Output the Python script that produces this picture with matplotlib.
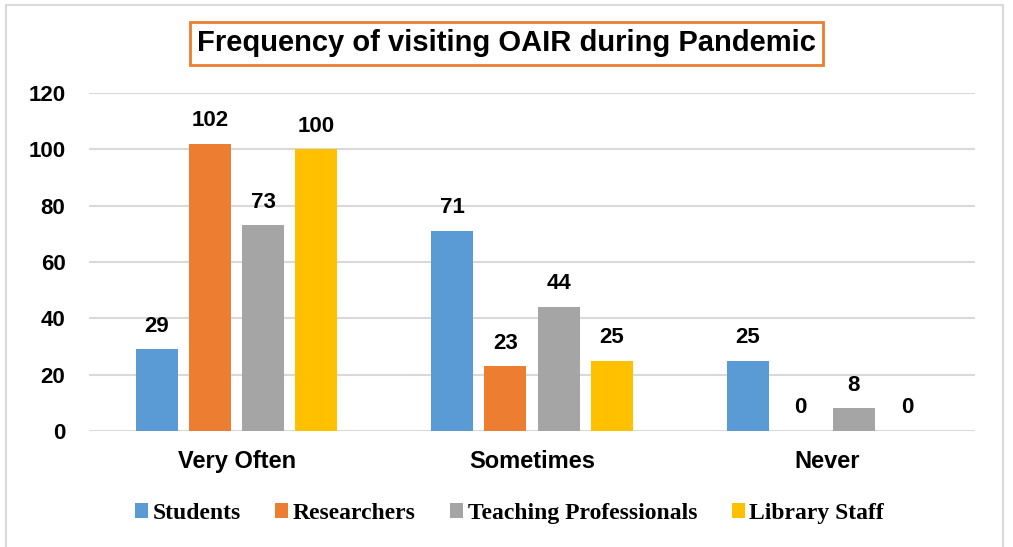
import matplotlib.pyplot as plt
import numpy as np
from matplotlib.patches import Rectangle

categories = ['Very Often', 'Sometimes', 'Never']
groups = ['Students', 'Researchers', 'Teaching Professionals', 'Library Staff']
students = [29, 71, 25]
researchers = [102, 23, 0]
teaching = [73, 44, 8]
library = [100, 25, 0]
colors = ['#5B9BD5', '#ED7D31', '#A5A5A5', '#FFC000']

plt.rcParams['font.family'] = ['Liberation Sans', 'DejaVu Sans']

fig = plt.figure(figsize=(10.13, 5.47), dpi=100)
ax = fig.add_axes([0.0879, 0.2121, 0.8746, 0.6179])

x = np.arange(len(categories))
width = 0.142
step = 0.18
series = [students, researchers, teaching, library]
for i, (vals, name, c) in enumerate(zip(series, groups, colors)):
    bars = ax.bar(x + (i - 1.5) * step, vals, width, color=c, label=name, zorder=3)
    for b, v in zip(bars, vals):
        ax.text(b.get_x() + b.get_width() / 2, v + 4.5, str(v), ha='center', va='bottom',
                fontsize=16, fontweight='bold')

ax.set_xlim(-0.5, 2.5)
ax.set_ylim(0, 120)
ax.set_yticks(range(0, 121, 20))
ax.grid(axis='y', color='#d9d9d9', linewidth=1.5, zorder=0)
for s in ax.spines.values():
    s.set_visible(False)
ax.tick_params(length=0)
ax.tick_params(axis='y', pad=17)
ax.tick_params(axis='x', pad=14)
ax.set_xticks(x)
ax.set_xticklabels(categories)
for lab in ax.get_yticklabels():
    lab.set_fontsize(16)
    lab.set_fontweight('bold')
for lab in ax.get_xticklabels():
    lab.set_fontsize(17)
    lab.set_fontweight('bold')

fig.text(0.5, 0.921, 'Frequency of visiting OAIR during Pandemic', ha='center', va='center',
         fontsize=21, fontweight='bold',
         bbox=dict(boxstyle='square,pad=0.25', facecolor='white', edgecolor='#ED7D31', linewidth=2))

leg = fig.legend(loc='center', bbox_to_anchor=(0.503, 0.062), ncol=4, frameon=False,
                 prop={'family': 'Liberation Serif', 'weight': 'bold', 'size': 17},
                 handlelength=0.55, handleheight=0.6, handletextpad=0.2, columnspacing=1.45)

fig.patches.append(Rectangle((0.006, -0.01), 0.984, 1.0, transform=fig.transFigure,
                             fill=False, edgecolor='#d9d9d9', linewidth=1.5))

fig.savefig('out.png', dpi=100)
